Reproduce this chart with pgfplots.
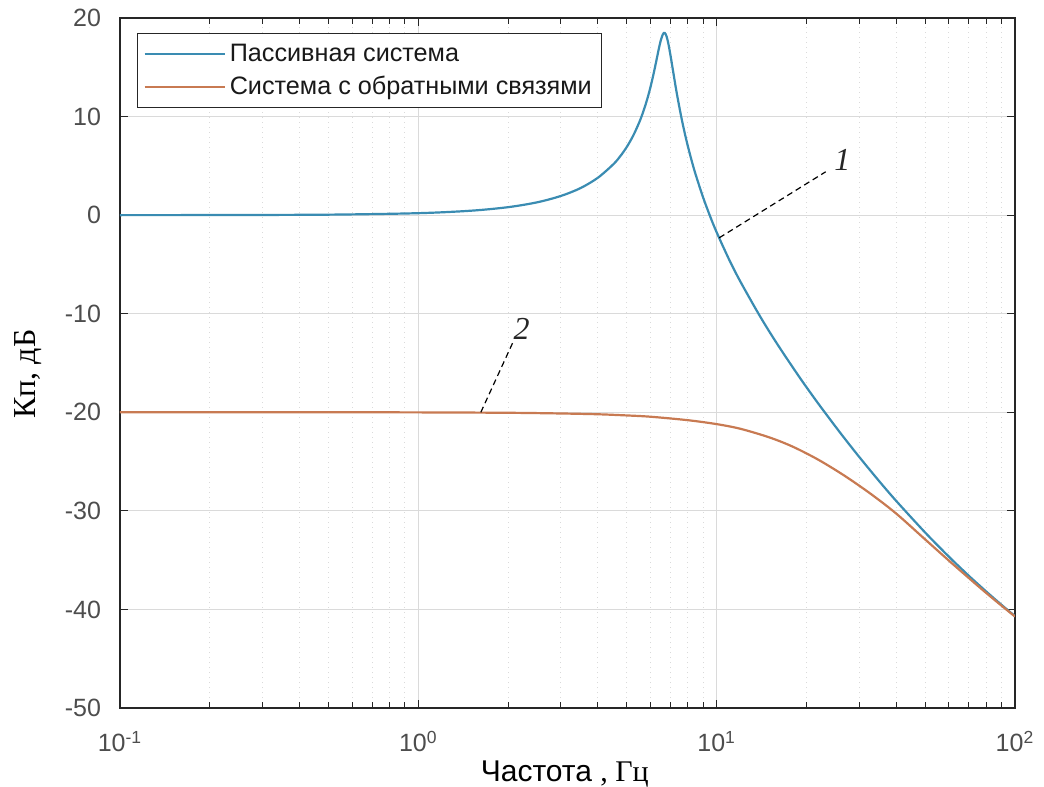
\documentclass[border=0pt]{standalone}
\usepackage{pgfplots}
\pgfplotsset{compat=1.18}
\usepackage{fontspec}
\setmainfont{Liberation Sans}
\newfontfamily\serif{Liberation Serif}
\definecolor{c1}{RGB}{58,140,178}
\definecolor{c2}{RGB}{200,122,82}
\definecolor{axc}{RGB}{38,38,38}
\definecolor{tlc}{RGB}{77,77,77}
\definecolor{gridc}{RGB}{218,218,218}
\begin{document}
\begin{tikzpicture}
\path[use as bounding box] (-60pt,-39.5pt) rectangle (462pt,354pt);
\begin{axis}[
  scale only axis, width=447.5pt, height=345pt,
  xmode=log, log basis x=10,
  xmin=0.1, xmax=100, ymin=-50, ymax=20,
  xtick={0.1,1,10,100},
  xticklabels={10\textsuperscript{-1},10\textsuperscript{0},10\textsuperscript{1},10\textsuperscript{2}},
  minor xtick={0.2,0.3,0.4,0.5,0.6,0.7,0.8,0.9,2,3,4,5,6,7,8,9,20,30,40,50,60,70,80,90},
  ytick={-50,-40,-30,-20,-10,0,10,20},
  yticklabels={-50,-40,-30,-20,-10,0,10,20},
  xmajorgrids, xminorgrids, ymajorgrids,
  major grid style={gridc, line width=0.5pt},
  minor grid style={gridc, line width=0.5pt, dotted},
  tick align=inside,
  major tick length=4pt, minor tick length=3pt,
  axis line style={axc, line width=0.6pt},
  tick style={axc, line width=0.5pt},
  ticklabel style={tlc, font=\fontsize{12.5}{14}\selectfont},
  yticklabel style={xshift=-6pt},
  xticklabel style={yshift=-8pt},
  xlabel={Частота {\serif , Гц}},
  xlabel style={at={(axis description cs:0.497,0)}, anchor=base, yshift=-36.5pt, font=\fontsize{15}{17}\selectfont, text=black},
  ylabel={\serif Кп, дБ},
  ylabel style={at={(axis description cs:-0.103,0.484)}, anchor=center, font=\fontsize{16}{18}\selectfont, text=black},
  legend style={at={(0.019,0.978)}, anchor=north west, draw=axc, line width=0.6pt,
    font=\fontsize{12.6}{14}\selectfont, text=black!90, row sep=2pt, inner sep=3pt},
  legend cell align=left,
  legend image code/.code={\draw[#1] (0pt,0pt) -- (40pt,0pt);},
]
\addplot[c1, line width=1.1pt, smooth] coordinates {
(0.1,0.0) (0.2,0.01) (0.5,0.05) (1,0.2) (1.5,0.45) (2,0.81) (2.5,1.30) (3,1.94)
(3.5,2.75) (4,3.80) (4.5,5.15) (4.75,5.97) (5,6.93) (5.25,8.06) (5.5,9.40)
(5.65,10.33) (5.8,11.38) (5.9,12.15) (6.0,12.99) (6.1,13.90) (6.2,14.87)
(6.3,15.88) (6.4,16.88) (6.5,17.75) (6.6,18.34) (6.65,18.48) (6.7,18.48)
(6.75,18.35) (6.8,18.10) (6.85,17.73) (6.9,17.29) (7.0,16.25) (7.1,15.12)
(7.2,13.99) (7.3,12.90) (7.4,11.89) (7.6,10.05) (7.8,8.45) (8,7.04)
(8.25,5.50) (8.5,4.14) (9,1.83) (9.5,-0.09) (10,-1.74)
(11,-4.48) (12,-6.72) (14,-10.30) (16,-13.12) (19,-16.49) (22,-19.19)
(26,-22.11) (30,-24.50) (35,-26.96) (40,-29.00) (50,-32.20) (60,-34.64)
(70,-36.58) (80,-38.17) (90,-39.52) (100,-40.68)
};
\addlegendentry{Пассивная система}
\addplot[c2, line width=1.1pt, smooth] coordinates {
(0.1,-20.0) (0.2,-20.0) (0.5,-20.0) (1,-20.01) (2,-20.05) (3,-20.12) (4,-20.2)
(5,-20.32) (6,-20.45) (8,-20.8) (10,-21.2) (12,-21.67) (15,-22.54) (18,-23.49)
(22,-24.84) (27,-26.49) (33,-28.32) (40,-30.28) (50,-32.9) (60,-35.04) (70,-36.81)
(80,-38.32) (90,-39.6) (100,-40.72)
};
\addlegendentry{Система с обратными связями}
\draw[black, line width=0.6pt, densely dashed] (axis cs:10.2,-2.3) -- (axis cs:23.2,4.4);
\node[font=\serif\itshape\fontsize{16}{18}\selectfont, text=black!85] at (axis cs:26.4,5.6) {1};
\draw[black, line width=0.6pt, densely dashed] (axis cs:1.62,-20) -- (axis cs:2.09,-12.7);
\node[font=\serif\itshape\fontsize{16}{18}\selectfont, text=black!85] at (axis cs:2.22,-11.5) {2};
\end{axis}
\end{tikzpicture}
\end{document}
